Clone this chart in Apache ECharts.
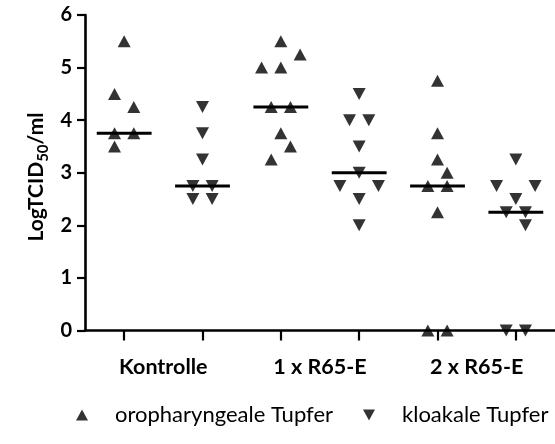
<!DOCTYPE html>
<html>
<head>
<meta charset="utf-8">
<script src="https://cdn.jsdelivr.net/npm/echarts@6/dist/echarts.min.js"></script>
<style>
  html, body { margin: 0; padding: 0; background: #fff; }
  #chart { width: 555px; height: 444px; }
</style>
</head>
<body>
<div id="chart"></div>
<script>
// Treatment groups (each has an oropharyngeal and a cloacal column)
const groups = ['Kontrolle', '1 x R65-E', '2 x R65-E'];
const seriesNames = ['oropharyngeale Tupfer', 'kloakale Tupfer'];

// Virus titres (log TCID50/ml), oropharyngeal swabs per group
const oroKontrolle = [5.5, 4.5, 4.25, 3.75, 3.75, 3.5];
const oro1x = [5.5, 5.25, 5.0, 5.0, 4.25, 4.25, 3.75, 3.5, 3.25];
const oro2x = [4.75, 3.75, 3.25, 3.0, 2.75, 2.75, 2.25, 0, 0];

// Virus titres, cloacal swabs per group
const kloKontrolle = [4.25, 3.75, 3.25, 2.75, 2.75, 2.5, 2.5];
const klo1x = [4.5, 4.0, 4.0, 3.5, 3.0, 2.75, 2.75, 2.5, 2.0];
const klo2x = [3.25, 2.75, 2.75, 2.5, 2.25, 2.25, 2.0, 0, 0];

// Median of each column, in column order
const medians = [3.75, 2.75, 4.25, 3.0, 2.75, 2.25];

// Y axis ticks
const yTicks = [0, 1, 2, 3, 4, 5, 6];

// Horizontal spreading of overlapping points (column slot per point)
const spreadOroKontrolle = [0, -1, 1, -1, 1, -1];
const spreadOro1x = [0, 2, -2, 0, -1, 1, 0, 1, -1];
const spreadOro2x = [0, 0, 0, 1, -1, 1, 0, -1, 1];
const spreadKloKontrolle = [0, 0, 0, -1, 1, -1, 1];
const spreadKlo1x = [0, -1, 1, 0, 0, -2, 2, 0, 0];
const spreadKlo2x = [0, -2, 2, 0, -1, 1, 1, -1, 1];

const SLOT = 0.123;       // x-axis units per spread slot
const HALF_MEDIAN = 0.35; // half width of median bar, axis units
const FONT = 'Lato, "Open Sans", sans-serif';

// Column positions: oro at 1,3,5 ; cloacal at 2,4,6
function buildPoints(valueSets, spreadSets, firstPos) {
  const out = [];
  valueSets.forEach((vals, g) => {
    const pos = firstPos + 2 * g;
    vals.forEach((v, k) => out.push([pos + spreadSets[g][k] * SLOT, v]));
  });
  return out;
}

const oroPoints = buildPoints([oroKontrolle, oro1x, oro2x],
  [spreadOroKontrolle, spreadOro1x, spreadOro2x], 1);
const kloPoints = buildPoints([kloKontrolle, klo1x, klo2x],
  [spreadKloKontrolle, spreadKlo1x, spreadKlo2x], 2);
const medianData = medians.map((m, i) => [i + 1, m]);

const upTri = 'triangle';
const downTri = 'path://M0,0L20,0L10,18Z';

const chart = echarts.init(document.getElementById('chart'), null, { renderer: 'canvas' });

chart.setOption({
  backgroundColor: '#fff',
  animation: false,
  grid: { left: 85, right: -2, top: 15, bottom: 113.5, containLabel: false },
  xAxis: {
    type: 'value',
    min: 0.5,
    max: 6.5,
    axisLine: { show: true, onZero: false, lineStyle: { color: '#000', width: 2.6 } },
    axisTick: {
      show: true, length: 10, inside: false,
      customValues: [1, 2, 3, 4, 5, 6],
      lineStyle: { color: '#000', width: 2.2 }
    },
    axisLabel: {
      show: true,
      customValues: [1.5, 3.5, 5.5],
      formatter: v => groups[Math.round((v - 1.5) / 2)],
      color: '#000', fontFamily: FONT, fontWeight: 'bold', fontSize: 21.5, margin: 26
    },
    splitLine: { show: false }
  },
  yAxis: {
    type: 'value',
    min: yTicks[0],
    max: yTicks[yTicks.length - 1],
    interval: 1,
    axisLine: { show: true, lineStyle: { color: '#000', width: 2.6 } },
    axisTick: { show: true, length: 8, lineStyle: { color: '#000', width: 2.2 } },
    axisLabel: {
      color: '#000', fontFamily: FONT, fontWeight: 'bold', fontSize: 20, margin: 13
    },
    splitLine: { show: false }
  },
  legend: {
    left: 71,
    top: 399,
    width: 800,
    itemWidth: 12,
    itemHeight: 11,
    itemGap: 30,
    textStyle: {
      color: '#000', fontFamily: FONT, fontSize: 22, padding: [0, 0, 0, 22]
    },
    data: [
      { name: seriesNames[0], icon: upTri },
      { name: seriesNames[1], icon: downTri }
    ]
  },
  graphic: [{
    type: 'text',
    x: 36,
    y: 177,
    rotation: Math.PI / 2,
    style: {
      text: '{a|LogTCID}{b|50}{a|/ml}',
      align: 'center',
      verticalAlign: 'middle',
      fill: '#000',
      rich: {
        a: { fontFamily: FONT, fontWeight: 'bold', fontSize: 21, lineHeight: 30, fill: '#000', verticalAlign: 'middle' },
        b: { fontFamily: FONT, fontWeight: 'bold', fontSize: 15, lineHeight: 15, fill: '#000', verticalAlign: 'bottom' }
      }
    }
  }],
  series: [
    {
      name: seriesNames[0],
      type: 'scatter',
      symbol: upTri,
      symbolSize: [13, 12],
      clip: false,
      itemStyle: { color: '#000' },
      data: oroPoints
    },
    {
      name: seriesNames[1],
      type: 'scatter',
      symbol: downTri,
      symbolSize: [13, 12],
      clip: false,
      itemStyle: { color: '#000' },
      data: kloPoints
    },
    {
      name: 'Median',
      type: 'custom',
      clip: false,
      data: medianData,
      renderItem: function (params, api) {
        const x = api.value(0);
        const m = api.value(1);
        const a = api.coord([x - HALF_MEDIAN, m]);
        const b = api.coord([x + HALF_MEDIAN, m]);
        return {
          type: 'line',
          shape: { x1: a[0], y1: a[1], x2: b[0], y2: b[1] },
          style: { stroke: '#000', lineWidth: 3 }
        };
      }
    }
  ]
});
</script>
</body>
</html>
